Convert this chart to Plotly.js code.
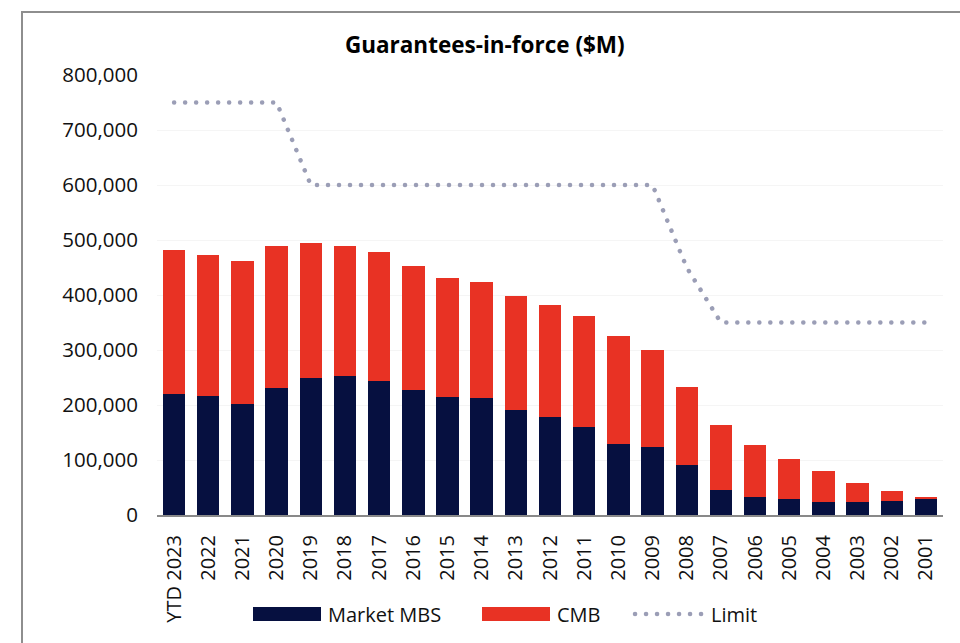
<!DOCTYPE html>
<html>
<head>
<meta charset="utf-8">
<script src="https://cdn.plot.ly/plotly-3.0.1.min.js"></script>
<style>
  html, body { margin: 0; padding: 0; background: #ffffff; }
  #wrap { position: relative; width: 960px; height: 643px; overflow: hidden; }
  #chart { position: absolute; left: 0; top: 0; width: 960px; height: 643px; }
  #frame { position: absolute; left: 21px; top: 11px; width: 960px; height: 660px;
           border-top: 2px solid #8e8e8e; border-left: 2px solid #8e8e8e; pointer-events: none; }
  #chart .scatterlayer path.js-line, #chart .shapelayer path { stroke-linecap: round; }
</style>
</head>
<body>
<div id="wrap">
  <div id="chart"></div>
  <div id="frame"></div>
</div>
<script>
const categories = ['YTD 2023','2022','2021','2020','2019','2018','2017','2016','2015','2014','2013','2012',
                    '2011','2010','2009','2008','2007','2006','2005','2004','2003','2002','2001'];
const marketMBS = [219500, 215800, 201300, 231500, 248500, 253300, 243600, 227800, 215100, 213300, 190900, 178200,
                   160000, 129100, 123600, 90900, 45500, 32200, 29100, 24200, 23600, 26000, 28500];
const cmb = [261800, 256400, 260000, 258100, 245500, 235800, 234000, 224900, 215800, 209800, 207300, 203600,
             202400, 196400, 176400, 142400, 118700, 95600, 73300, 55300, 34600, 17100, 4200];
const limit = [750000, 750000, 750000, 750000, 600000, 600000, 600000, 600000, 600000, 600000, 600000, 600000,
               600000, 600000, 600000, 450000, 350000, 350000, 350000, 350000, 350000, 350000, 350000];
const seriesNames = ['Market MBS', 'CMB', 'Limit'];
const yTickVals = [0, 100000, 200000, 300000, 400000, 500000, 600000, 700000, 800000];
const yTickText = ['0', '100,000', '200,000', '300,000', '400,000', '500,000', '600,000', '700,000', '800,000'];

const NAVY = '#061040', RED = '#e83224', GREY = '#9b9eb6';
const FONT = 'Open Sans, Lato, DejaVu Sans, sans-serif';
const DOTS = '0.1px,10.9px';

const traces = [
  { type: 'bar', name: seriesNames[0], x: categories, y: marketMBS, marker: { color: NAVY }, showlegend: false },
  { type: 'bar', name: seriesNames[1], x: categories, y: cmb, marker: { color: RED }, showlegend: false },
  { type: 'scatter', mode: 'lines', name: seriesNames[2], x: categories, y: limit,
    line: { color: GREY, width: 4.5, dash: DOTS }, showlegend: false }
];

// plot area geometry (for the hand-placed legend in paper coordinates)
const L = 157, R = 943, T = 75, B = 515;
const px = v => (v - L) / (R - L);
const py = v => (B - v) / (B - T);

const legendY0 = 607, legendY1 = 621, legendMid = 614;
const shapes = [
  { type: 'rect', xref: 'paper', yref: 'paper', x0: px(253), x1: px(321), y0: py(legendY1), y1: py(legendY0),
    fillcolor: NAVY, line: { width: 0 } },
  { type: 'rect', xref: 'paper', yref: 'paper', x0: px(482), x1: px(550), y0: py(legendY1), y1: py(legendY0),
    fillcolor: RED, line: { width: 0 } },
  { type: 'line', xref: 'paper', yref: 'paper', x0: px(635), x1: px(705), y0: py(legendMid), y1: py(legendMid),
    line: { color: GREY, width: 4.5, dash: DOTS } }
];
const annotations = [
  { text: seriesNames[0], xref: 'paper', yref: 'paper', x: px(326), y: py(legendMid), xanchor: 'left', yanchor: 'middle',
    showarrow: false, font: { family: FONT, size: 20, color: '#111' } },
  { text: seriesNames[1], xref: 'paper', yref: 'paper', x: px(555), y: py(legendMid), xanchor: 'left', yanchor: 'middle',
    showarrow: false, font: { family: FONT, size: 20, color: '#111' } },
  { text: seriesNames[2], xref: 'paper', yref: 'paper', x: px(709), y: py(legendMid), xanchor: 'left', yanchor: 'middle',
    showarrow: false, font: { family: FONT, size: 20, color: '#111' } }
];

const layout = {
  width: 960, height: 643,
  margin: { l: L, r: 960 - R, t: T, b: 643 - B },
  paper_bgcolor: 'rgba(0,0,0,0)', plot_bgcolor: '#ffffff',
  title: { text: '<b>Guarantees-in-force ($M)</b>', x: 0.505, xref: 'container', y: 0.93, yanchor: 'middle',
           font: { family: FONT, size: 22.5, color: '#000' } },
  barmode: 'stack', bargap: 0.345,
  showlegend: false,
  xaxis: { type: 'category', tickangle: -90, ticks: '', showline: true, linecolor: '#898989', linewidth: 2,
           tickfont: { family: FONT, size: 20, color: '#111' }, ticklabelstandoff: 10, showgrid: false, zeroline: false },
  yaxis: { range: [0, 800000], tickvals: yTickVals, ticktext: yTickText, ticks: '',
           tickfont: { family: FONT, size: 20.5, color: '#111' }, ticklabelstandoff: 18,
           showgrid: true, gridcolor: '#f5f5f5', gridwidth: 1, zeroline: false, showline: false },
  shapes: shapes, annotations: annotations
};

Plotly.newPlot('chart', traces, layout, { displayModeBar: false, staticPlot: true });
</script>
</body>
</html>
